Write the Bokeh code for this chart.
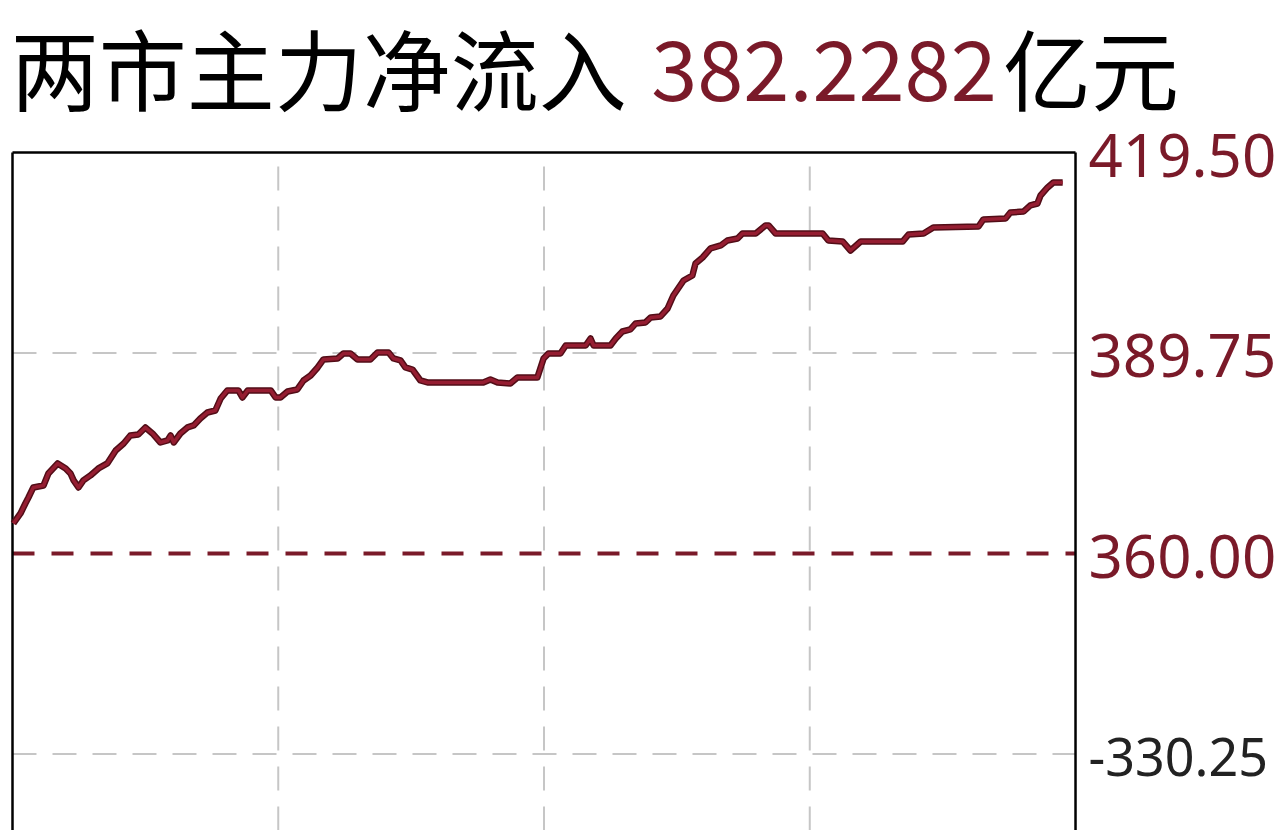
from bokeh.plotting import figure
from bokeh.models import Range1d, Label
from bokeh.core.properties import value
from bokeh.embed import file_html
from bokeh.resources import INLINE

# ---- data (minutes since open, net inflow in 亿元) ----
minutes = [0.2, 1.8, 2.9, 3.6, 4.7, 7.0, 8.1, 10.2, 12.0, 13.1, 13.8, 14.9, 16.0, 17.6, 19.4,
           21.4, 23.3, 25.1, 26.6, 28.4, 30.0, 31.6, 33.4, 35.0, 35.7, 36.4, 37.9, 39.5, 40.9,
           42.4, 44.0, 45.8, 47.0, 48.5, 51.0, 51.9, 53.1, 58.3, 59.4, 60.5, 62.1, 64.3, 65.7,
           67.3, 68.9, 70.2, 73.4, 74.7, 76.3, 77.9, 80.8, 82.4, 84.9, 86.0, 87.6, 88.7, 90.3,
           92.1, 93.7, 106.3, 107.9, 109.5, 112.4, 114.0, 118.5, 119.9, 121.0, 123.7, 124.9,
           129.4, 130.5, 131.2, 135.0, 136.2, 137.7, 139.5, 140.7, 142.9, 144.1, 146.3, 147.9,
           149.2, 151.5, 153.5, 154.2, 155.8, 157.6, 159.9, 161.4, 163.7, 164.8, 167.8, 170.0,
           170.7, 172.3, 182.9, 184.2, 187.4, 189.2, 191.5, 201.0, 202.3, 205.7, 207.9, 218.1,
           219.2, 224.2, 225.3, 228.3, 229.8, 231.4, 232.1, 233.7, 235.0, 237.1]
inflow = [364.46, 365.94, 367.42, 368.31, 369.80, 370.09, 371.87, 373.36, 372.62, 371.87, 370.84,
          369.80, 370.84, 371.58, 372.62, 373.36, 375.29, 376.32, 377.51, 377.66, 378.70, 377.81,
          376.47, 376.77, 377.51, 376.47, 377.81, 378.70, 379.00, 380.03, 380.92, 381.22, 383.00,
          384.19, 384.19, 383.15, 384.19, 384.19, 383.15, 383.15, 384.04, 384.34, 385.67, 386.41,
          387.60, 388.79, 388.94, 389.68, 389.68, 388.79, 388.79, 389.83, 389.83, 388.94, 388.64,
          387.60, 387.30, 385.67, 385.38, 385.38, 385.82, 385.38, 385.23, 386.12, 386.12, 388.94,
          389.68, 389.68, 390.86, 390.86, 391.90, 390.86, 390.86, 391.90, 392.94, 393.24, 394.13,
          394.28, 395.02, 395.17, 396.35, 398.28, 400.51, 401.25, 403.03, 403.92, 405.26, 405.70,
          406.44, 406.74, 407.48, 407.48, 408.67, 408.67, 407.48, 407.48, 406.44, 406.30, 404.96,
          406.30, 406.30, 407.33, 407.48, 408.37, 408.52, 409.56, 409.71, 410.60, 410.75, 411.64,
          411.93, 413.12, 414.31, 415.05, 415.05]

# y-scale labels (right side) and their colours
scale_values = [419.50, 389.75, 360.00, 330.25]
scale_labels = ["419.50", "389.75", "360.00", "-330.25"]
scale_colors = ["#7a1a29", "#7a1a29", "#7a1a29", "#222222"]
scale_sizes = ["60px", "60px", "60px", "52px"]
grid_values = [389.75, 330.25]
base_value = 360.00
session = [0, 240]
time_grid = [60, 120, 180]

title_main = "两市主力净流入"
title_value = "382.2282"
title_unit = "亿元"

RED = "#7a1a29"
GRID = "#c6c6c6"

y_top = scale_values[0]
y_bottom = 318.9

p = figure(width=1280, height=830, output_backend="svg", toolbar_location=None,
           x_range=Range1d(-2.71, 286.28), y_range=Range1d(y_bottom, 442.05),
           x_axis_location=None, y_axis_location=None,
           min_border=0)
p.outline_line_color = None
p.xgrid.visible = False
p.ygrid.visible = False
p.background_fill_color = "white"
p.border_fill_color = "white"

# grid lines
p.segment(x0=[session[0]] * len(grid_values), x1=[session[1]] * len(grid_values),
          y0=grid_values, y1=grid_values, line_color=GRID, line_width=2, line_dash="24 16")
p.segment(x0=time_grid, x1=time_grid, y0=[y_bottom] * len(time_grid), y1=[y_top] * len(time_grid),
          line_color=GRID, line_width=2, line_dash="24 16")
# base line
p.segment(x0=[session[0]], x1=[session[1]], y0=[base_value], y1=[base_value],
          line_color=RED, line_width=4, line_dash="22 17")

# frame: left, top, right
p.segment(x0=[session[0], session[0], session[1]], x1=[session[0], session[1], session[1]],
          y0=[y_bottom, y_top, y_bottom], y1=[y_top, y_top, y_top],
          line_color="black", line_width=2.5)

# series
p.line(minutes, inflow, line_color="#520d17", line_width=6.5, line_join="round")
p.line(minutes, inflow, line_color="#951d31", line_width=3.5, line_join="round")

# scale labels
p.text(x=[session[1]] * len(scale_values), y=scale_values, text=scale_labels,
       text_color=scale_colors, text_font=value("Noto Sans"), text_font_size=scale_sizes,
       text_baseline="middle", x_offset=13, y_offset=3)

# title
p.add_layout(Label(x=-0.4, y=432.4, text=title_main, text_color="black",
                   text_font="Noto Sans CJK SC", text_font_size="88px", text_baseline="middle"))
p.add_layout(Label(x=144.2, y=431.6, text=title_value, text_color=RED,
                   text_font="Noto Sans CJK SC", text_font_size="83px", text_baseline="middle"))
p.add_layout(Label(x=223.6, y=432.4, text=title_unit, text_color="black",
                   text_font="Noto Sans CJK SC", text_font_size="88px", text_baseline="middle"))

open("out.html", "w").write(file_html(p, INLINE))
